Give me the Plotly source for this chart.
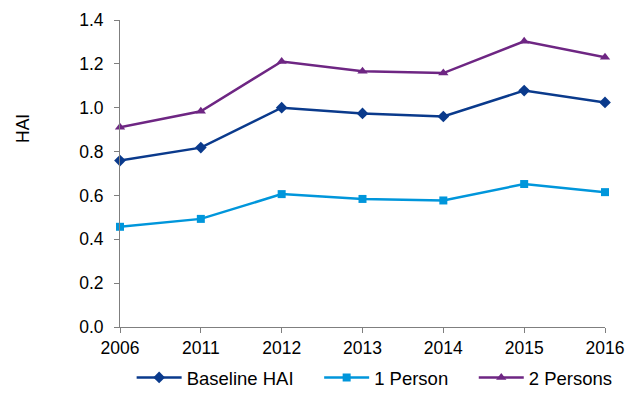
import plotly.graph_objects as go

years = ["2006", "2011", "2012", "2013", "2014", "2015", "2016"]
baseline_hai = [0.759, 0.818, 1.000, 0.974, 0.960, 1.078, 1.024]
one_person = [0.457, 0.493, 0.606, 0.584, 0.577, 0.652, 0.615]
two_persons = [0.911, 0.984, 1.211, 1.166, 1.158, 1.303, 1.230]
y_ticks = [0.0, 0.2, 0.4, 0.6, 0.8, 1.0, 1.2, 1.4]

font = "Liberation Sans, Arial, sans-serif"
fs = 17.5
lfs = 18.5
pad = "\u00a0" * 4

fig = go.Figure()
series = [
    ("Baseline HAI" + pad, baseline_hai, "#0A3A8C", "diamond", 9),
    ("1 Person" + pad, one_person, "#0096DB", "square", 8),
    ("2 Persons", two_persons, "#6E2683", "triangle-up", 9),
]
for name, vals, color, sym, sz in series:
    fig.add_trace(go.Scatter(
        x=years, y=vals, name=name, mode="lines+markers",
        line=dict(color=color, width=2.5),
        marker=dict(symbol=sym, size=sz, color=color),
        cliponaxis=False,
    ))

fig.update_layout(
    width=628, height=399,
    margin=dict(l=120, r=23, t=20, b=72, autoexpand=False),
    paper_bgcolor="white", plot_bgcolor="white",
    font=dict(family=font, size=fs, color="#000000"),
    legend=dict(orientation="h", x=0.024, xanchor="left", y=-0.104, yanchor="top",
                font=dict(size=lfs), traceorder="normal", itemwidth=45),
    showlegend=True,
    annotations=[dict(text="HAI", xref="paper", yref="paper", x=-0.2, y=0.645,
                      xanchor="center", yanchor="middle", textangle=-90,
                      showarrow=False, font=dict(size=fs))],
)
fig.update_xaxes(
    type="category", range=[0, 6], showgrid=False, automargin=False,
    showline=True, linecolor="#7f7f7f", linewidth=1,
    ticks="outside", ticklen=5, tickcolor="#7f7f7f",
    tickfont=dict(size=fs),
)
fig.update_yaxes(
    range=[0, 1.4], tickvals=y_ticks, tickformat=".1f", showgrid=False,
    automargin=False,
    showline=True, linecolor="#7f7f7f", linewidth=1,
    ticks="outside", ticklen=5, tickcolor="#7f7f7f", ticklabelstandoff=7,
    tickfont=dict(size=fs), zeroline=False,
)

fig.write_html("out.html", config={"displayModeBar": False},
               post_script="document.body.style.margin='0';document.body.style.overflow='hidden';")
